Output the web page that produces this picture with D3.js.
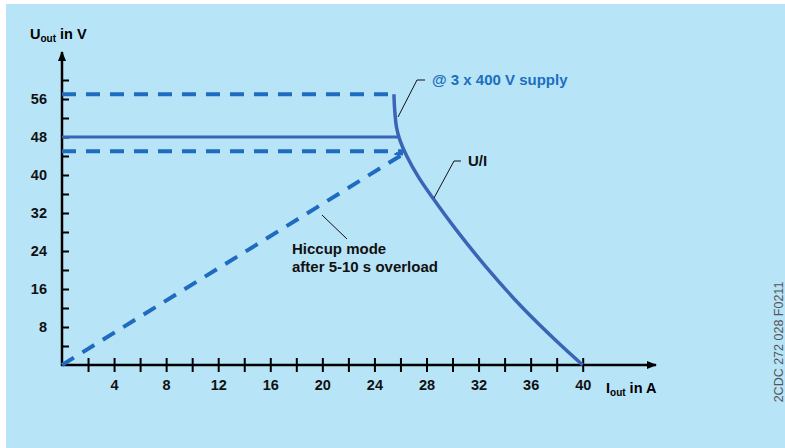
<!DOCTYPE html>
<html>
<head>
<meta charset="utf-8">
<script src="https://cdn.jsdelivr.net/npm/d3@7"></script>
<style>
  body { margin: 0; background: #fff; }
  svg { display: block; font-family: "Liberation Sans", Arial, sans-serif; }
  .tick text { font-size: 14.5px; font-weight: bold; fill: #111; }
  .note { font-size: 15px; font-weight: bold; }
</style>
</head>
<body>
<svg id="chart" width="785" height="448"></svg>
<script>
// U/I characteristic (A, V)
const curveCurrent = [25.5, 25.55, 25.7, 25.95, 26.5, 27.4, 28.5, 30.3, 32.9, 35.4, 38.0, 40];
const curveVoltage = [57, 54, 50, 47.4, 43.9, 39.5, 35.1, 28.4, 19.6, 12.0, 5.0, 0];

const supplyMax = 57;     // dashed, @ 3 x 400 V supply
const nominal = 48;       // solid
const hiccupLevel = 45;   // dashed
const kneeCurrent = { max: 25.5, nominal: 25.85, hiccup: 26.4 };

const hiccupCurrent = [0, 26.2];
const hiccupVoltage = [0, 44.4];

const xTicks = d3.range(2, 41, 2);
const xLabels = [4, 8, 12, 16, 20, 24, 28, 32, 36, 40];
const yTicks = d3.range(4, 61, 4);
const yLabels = [8, 16, 24, 32, 40, 48, 56];

const svg = d3.select("#chart");
const width = 785;
const height = 448;

svg.append("rect")
  .attr("x", 6).attr("y", 4)
  .attr("width", width - 6).attr("height", height - 4)
  .attr("fill", "#b8e4f8");

const x = d3.scaleLinear().domain([0, 40]).range([62, 582.7]);
const y = d3.scaleLinear().domain([0, 56]).range([365, 99]);

const dashed = "#1f6bbf";
const solid = "#3a64b6";

const defs = svg.append("defs");
defs.append("marker")
  .attr("id", "arrow")
  .attr("viewBox", "0 0 10 10")
  .attr("refX", 9).attr("refY", 5)
  .attr("markerWidth", 10).attr("markerHeight", 10)
  .attr("markerUnits", "userSpaceOnUse")
  .attr("orient", "auto")
  .append("path")
  .attr("d", "M0,1 L10,5 L0,9 Z")
  .attr("fill", "#000");
defs.append("marker")
  .attr("id", "chevron")
  .attr("viewBox", "0 0 10 10")
  .attr("refX", 9).attr("refY", 5)
  .attr("markerWidth", 10).attr("markerHeight", 10)
  .attr("markerUnits", "userSpaceOnUse")
  .attr("orient", "auto")
  .append("path")
  .attr("d", "M2,0 L9,5")
  .attr("fill", "none")
  .attr("stroke", dashed).attr("stroke-width", 3);

// x axis
const xAxis = svg.append("g")
  .attr("transform", `translate(0,${y(0)})`)
  .call(d3.axisBottom(x).tickValues(xTicks).tickSize(7)
    .tickFormat((d) => (xLabels.includes(d) ? d : "")));
xAxis.select(".domain").remove();
xAxis.selectAll(".tick line").attr("y1", -7).attr("stroke", "#000").attr("stroke-width", 2);
xAxis.selectAll(".tick text").attr("y", 15).attr("dy", "0.71em");

// y axis
const yAxis = svg.append("g")
  .attr("transform", `translate(${x(0)},0)`)
  .call(d3.axisLeft(y).tickValues(yTicks).tickSize(7)
    .tickFormat((d) => (yLabels.includes(d) ? d : "")));
yAxis.select(".domain").remove();
yAxis.selectAll(".tick line").attr("x2", 7).attr("stroke", "#000").attr("stroke-width", 2);
yAxis.selectAll(".tick text").attr("x", -15);

svg.append("line")
  .attr("x1", x(0) - 1).attr("y1", y(0))
  .attr("x2", 656).attr("y2", y(0))
  .attr("stroke", "#000").attr("stroke-width", 2.5)
  .attr("marker-end", "url(#arrow)");
svg.append("line")
  .attr("x1", x(0)).attr("y1", y(0) + 1)
  .attr("x2", x(0)).attr("y2", 52)
  .attr("stroke", "#000").attr("stroke-width", 2.5)
  .attr("marker-end", "url(#arrow)");

// axis titles
const yTitle = svg.append("text").attr("x", 30).attr("y", 39)
  .attr("font-size", 14.5).attr("font-weight", "bold");
yTitle.append("tspan").text("U");
yTitle.append("tspan").attr("font-size", 10).attr("dy", 3).text("out");
yTitle.append("tspan").attr("dy", -3).text(" in V");

const xTitle = svg.append("text").attr("x", 606).attr("y", 393)
  .attr("font-size", 14.5).attr("font-weight", "bold");
xTitle.append("tspan").text("I");
xTitle.append("tspan").attr("font-size", 10).attr("dy", 3).text("out");
xTitle.append("tspan").attr("dy", -3).text(" in A");

// horizontal limits
svg.append("line")
  .attr("x1", x(0)).attr("x2", x(kneeCurrent.max))
  .attr("y1", y(supplyMax)).attr("y2", y(supplyMax))
  .attr("stroke", dashed).attr("stroke-width", 4)
  .attr("stroke-dasharray", "14,10");
svg.append("line")
  .attr("x1", x(0)).attr("x2", x(kneeCurrent.hiccup) - 2)
  .attr("y1", y(hiccupLevel)).attr("y2", y(hiccupLevel))
  .attr("stroke", dashed).attr("stroke-width", 4)
  .attr("stroke-dasharray", "14,10");
svg.append("line")
  .attr("x1", x(0)).attr("x2", x(kneeCurrent.nominal))
  .attr("y1", y(nominal)).attr("y2", y(nominal))
  .attr("stroke", solid).attr("stroke-width", 3);

// hiccup ramp
svg.append("line")
  .attr("x1", x(hiccupCurrent[0])).attr("y1", y(hiccupVoltage[0]))
  .attr("x2", x(hiccupCurrent[1])).attr("y2", y(hiccupVoltage[1]))
  .attr("stroke", dashed).attr("stroke-width", 4)
  .attr("stroke-dasharray", "14,10")
  .attr("marker-end", "url(#chevron)");

// U/I curve
const curvePoints = curveCurrent.map((c, i) => [x(c), y(curveVoltage[i])]);
svg.append("path")
  .attr("d", d3.line().curve(d3.curveCatmullRom.alpha(0.5))(curvePoints))
  .attr("fill", "none")
  .attr("stroke", solid).attr("stroke-width", 3.5);

// annotations
const leader = (pts) => svg.append("polyline")
  .attr("points", pts.map((p) => p.join(",")).join(" "))
  .attr("fill", "none").attr("stroke", "#111").attr("stroke-width", 1);

leader([[398, 117], [417, 80], [425, 80]]);
svg.append("text").attr("class", "note")
  .attr("x", 432).attr("y", 85).attr("fill", "#1b6fbd")
  .text("@ 3 x 400 V supply");

leader([[434, 198], [454, 161], [461, 161]]);
svg.append("text").attr("class", "note")
  .attr("x", 468).attr("y", 166).attr("fill", "#111")
  .text("U/I");

leader([[322, 215], [347, 239]]);
svg.append("text").attr("class", "note")
  .attr("x", 292).attr("y", 254).attr("fill", "#111")
  .text("Hiccup mode");
svg.append("text").attr("class", "note")
  .attr("x", 292).attr("y", 272).attr("fill", "#111")
  .text("after 5-10 s overload");

svg.append("text")
  .attr("transform", "translate(783,342) rotate(-90)")
  .attr("text-anchor", "middle")
  .attr("font-size", 12.5).attr("fill", "#555")
  .text("2CDC 272 028 F0211");
</script>
</body>
</html>
